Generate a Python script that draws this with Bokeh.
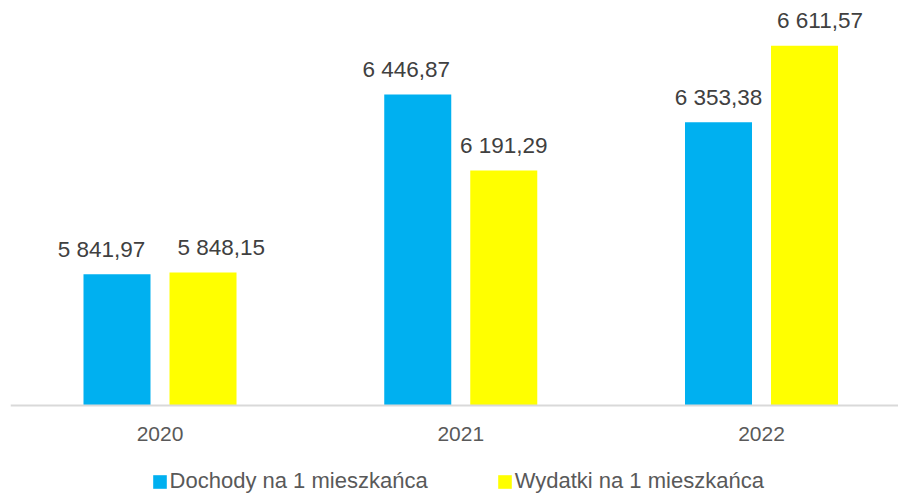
from bokeh.plotting import figure
from bokeh.models import (Range1d, FixedTicker, ColumnDataSource, Legend, LegendItem)
from bokeh.core.properties import value
from bokeh.embed import file_html
from bokeh.resources import INLINE

years = ["2020", "2021", "2022"]
dochody = [5841.97, 6446.87, 6353.38]
wydatki = [5848.15, 6191.29, 6611.57]
series_names = ["Dochody na 1 mieszkańca", "Wydatki na 1 mieszkańca"]

BLUE = "#00B0F0"
YELLOW = "#FFFF00"
FONT = "Liberation Sans"
BASE = 5400

def fmt(v):
    s = f"{v:,.2f}"
    return s.replace(",", " ").replace(".", ",")

idx = list(range(len(years)))
bw = 0.2228
off = 0.143

p = figure(frame_width=888, frame_height=495, output_backend="svg", toolbar_location=None,
           x_range=Range1d(-0.4971, 2.4555), y_range=Range1d(5097.0, 6763.6),
           min_border_left=10, min_border_right=0, min_border_top=0,
           min_border_bottom=0, outline_line_color=None)
p.background_fill_color = "white"
p.border_fill_color = "white"
p.xgrid.visible = False
p.ygrid.visible = False
p.yaxis.visible = False

src_d = ColumnDataSource(dict(x=[i - off for i in idx], top=dochody))
src_w = ColumnDataSource(dict(x=[i + off for i in idx], top=wydatki))
r_d = p.vbar(x="x", top="top", bottom=BASE, width=bw, source=src_d,
             fill_color=BLUE, line_color=None)
r_w = p.vbar(x="x", top="top", bottom=BASE, width=bw, source=src_w,
             fill_color=YELLOW, line_color=None)

# data labels (with small manual nudges as in the original)
nudge_d = [-15.5, -11.5, 0]
nudge_w = [18.3, 0, 15.5]
lab = ColumnDataSource(dict(
    x=[i - off for i in idx] + [i + off for i in idx],
    y=dochody + wydatki,
    text=[fmt(v) for v in dochody + wydatki],
    dx=nudge_d + nudge_w,
))
p.text(x="x", y="y", text="text", source=lab, x_offset="dx", y_offset=-25,
       text_align="center", text_baseline="alphabetic",
       text_font=value(FONT), text_font_size="22.5px", text_color="#404040")

ax = p.xaxis[0]
ax.fixed_location = BASE
ax.ticker = FixedTicker(ticks=idx)
ax.major_label_overrides = {i: y for i, y in zip(idx, years)}
ax.major_tick_line_color = None
ax.minor_tick_line_color = None
ax.axis_line_color = "#D9D9D9"
ax.axis_line_width = 2
ax.major_label_text_font = FONT
ax.major_label_text_font_size = "21px"
ax.major_label_text_color = "#595959"
ax.major_label_standoff = 15

legend = Legend(items=[LegendItem(label=series_names[0], renderers=[r_d]),
                       LegendItem(label=series_names[1], renderers=[r_w])],
                orientation="horizontal", location=(140.6, 1),
                glyph_width=17, glyph_height=17, label_standoff=2, spacing=68,
                padding=0, margin=0, border_line_color=None,
                background_fill_alpha=0,
                label_text_font=FONT, label_text_font_size="22px",
                label_text_color="#595959")
p.add_layout(legend, "center")

open("out.html", "w").write(file_html(p, INLINE))
